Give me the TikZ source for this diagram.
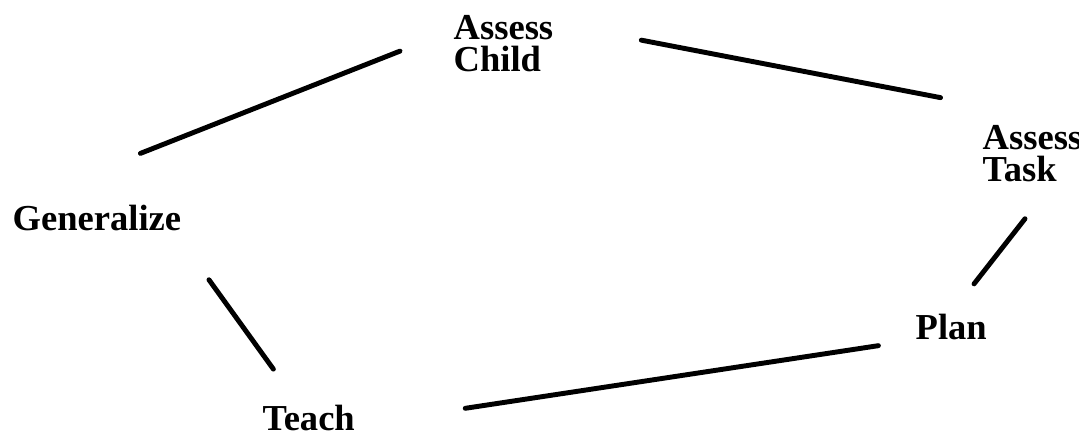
\documentclass[tikz,border=0pt]{standalone}
\usepackage{fontspec}
\setmainfont{Liberation Serif}
\usetikzlibrary{positioning}

\begin{document}
\begin{tikzpicture}[
  stage/.style={font=\bfseries\fontsize{10.4}{9}\selectfont,inner sep=0pt,
                align=left,anchor=north west},
  link/.style={line width=1.4pt,line cap=round},
]

\useasboundingbox (0,0) rectangle (10.79,4.39);

% Stages of the cycle
\node[stage] (child) at (4.53,4.24) {Assess\\Child};
\node[stage] (task)  at (9.82,3.14) {Assess\\Task};
\node[stage] (plan)  at (9.15,1.26) {Plan};
\node[stage] (teach) at (2.62,0.35) {Teach};
\node[stage] (gen)   at (0.12,2.35) {Generalize};

% Links between stages
\draw[link,shorten <=0.89cm,shorten >=1.45cm] (child.22) -- (task.north east);
\draw[link,shorten <=0.46cm,shorten >=0.37cm] (task.-54) -- (plan.north);
\draw[link,shorten <=0.37cm,shorten >=1.11cm] (plan.south west) -- (teach.-9);
\draw[link,shorten <=0.43cm,shorten >=0.60cm] (teach.127) -- (gen.-10);
\draw[link,shorten <=1.38cm,shorten >=0.57cm] (gen.north west) -- (child.165);

\end{tikzpicture}
\end{document}
